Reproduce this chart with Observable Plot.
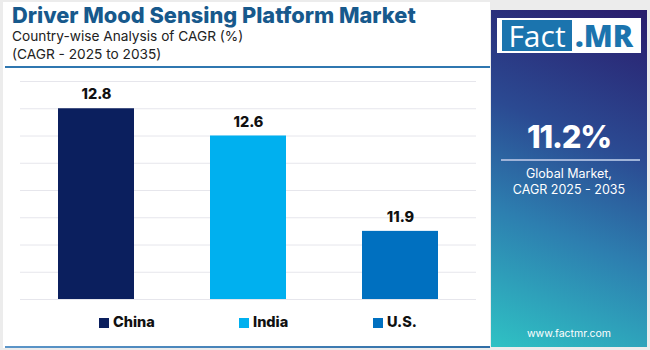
<!DOCTYPE html>
<html>
<head>
<meta charset="utf-8">
<script src="https://cdn.jsdelivr.net/npm/d3@7"></script>
<script src="https://cdn.jsdelivr.net/npm/@observablehq/plot@0.6"></script>
<style>
  html, body { margin: 0; padding: 0; }
  body { width: 650px; height: 350px; overflow: hidden; font-family: Inter, "Open Sans", sans-serif; }
  #frame { position: relative; width: 650px; height: 350px; background: #ececec; }
  #panel { position: absolute; left: 3px; top: 2px; width: 487px; height: 346px; background: #ffffff; }
  #title { position: absolute; left: 12px; top: 2px; font-size: 21.8px; font-weight: 800; color: #17598c; white-space: nowrap; }
  #sub1 { position: absolute; left: 12px; top: 28px; font-size: 13.7px; color: #222; white-space: nowrap; }
  #sub2 { position: absolute; left: 12px; top: 46px; font-size: 13.7px; color: #222; white-space: nowrap; }
  #rule { position: absolute; left: 5px; top: 66px; width: 485px; height: 1.5px; background: #2f77b0; }
  #bottomrule { position: absolute; left: 5px; top: 346px; width: 485px; height: 2px; background: linear-gradient(to right, #5b95c8, #2f6ea6); }
  #chart { position: absolute; left: 0; top: 70px; }
  #legend { position: absolute; top: 313px; left: 0; width: 490px; height: 20px; }
  .li { position: absolute; top: 0; font-size: 14.5px; font-weight: 800; color: #111; white-space: nowrap; }
  .sw { display: inline-block; width: 10px; height: 10px; margin-right: 4px; vertical-align: -1px; }
  #side { position: absolute; left: 491px; top: 10px; width: 156px; height: 337px;
          background: linear-gradient(22deg, #2fc2c4 0%, #2d7fb0 35%, #2b4a92 62%, #2a1c6c 100%); }
  #logo { position: absolute; left: 6px; top: 8px; width: 144px; height: 35px; background: #fff; }
  #logoFact { position: absolute; left: 5px; top: 2px; width: 70px; height: 31px; background: #1b74ae; color: #fff; font-family: "Open Sans", sans-serif; font-size: 30px; line-height: 31px; text-align: center; }
  #logoMR { position: absolute; left: 78px; top: 2px; font-family: "Open Sans", sans-serif; font-size: 30px; font-weight: 800; line-height: 31px; color: #1b74ae; }
  #big { position: absolute; left: 0; width: 156px; top: 108px; text-align: center; color: #fff; font-size: 31px; font-weight: 800; letter-spacing: -1.2px; }
  #sep { position: absolute; left: 10px; top: 149px; width: 139px; height: 2px; background: #9fb3d8; }
  #glob { position: absolute; left: 0; width: 156px; top: 156px; text-align: center; color: #fff; font-size: 12.5px; line-height: 16px; }
  #url { position: absolute; left: 0; width: 156px; top: 317px; text-align: center; color: #fff; font-size: 10.5px; }
</style>
</head>
<body>
<div id="frame">
  <div id="panel"></div>
  <div id="title">Driver Mood Sensing Platform Market</div>
  <div id="sub1">Country-wise Analysis of CAGR (%)</div>
  <div id="sub2">(CAGR - 2025 to 2035)</div>
  <div id="rule"></div>
  <div id="chart"></div>
  <div id="legend"></div>
  <div id="bottomrule"></div>
  <div id="side">
    <div id="logo"><div id="logoFact">Fact</div><div id="logoMR">.MR</div></div>
    <div id="big">11.2%</div>
    <div id="sep"></div>
    <div id="glob">Global Market,<br>CAGR 2025 - 2035</div>
    <div id="url">www.factmr.com</div>
  </div>
</div>
<script>
const countries = ["China", "India", "U.S."];
const cagr = [12.8, 12.6, 11.9];
const colors = ["#0b1f5e", "#00b0ef", "#0070c0"];
const yDomain = [11.4, 13.0];
const gridTicks = [11.4, 11.6, 11.8, 12.0, 12.2, 12.4, 12.6, 12.8, 13.0];

const data = countries.map((c, i) => ({country: c, value: cagr[i], base: yDomain[0]}));

const chart = Plot.plot({
  width: 490,
  height: 275,
  marginTop: 11,
  marginBottom: 46,
  marginLeft: 20,
  marginRight: 14,
  style: {background: "transparent", fontFamily: "Inter, sans-serif"},
  x: {domain: countries, paddingInner: 0.5, paddingOuter: 0.25, axis: null},
  y: {domain: yDomain, axis: null},
  color: {domain: countries, range: colors},
  marks: [
    Plot.gridY(gridTicks, {stroke: "#e6e6ec", strokeOpacity: 1, strokeWidth: 1}),
    Plot.barY(data, {x: "country", y1: "base", y2: "value", fill: "country"}),
    Plot.text(data, {x: "country", y: "value", text: d => d.value.toFixed(1), dy: -14, fontSize: 14.5, fontWeight: 800, fill: "#111"})
  ]
});
document.getElementById("chart").appendChild(chart);

const legendX = [99, 239, 373];
const legend = document.getElementById("legend");
countries.forEach((c, i) => {
  const el = document.createElement("div");
  el.className = "li";
  el.style.left = legendX[i] + "px";
  el.innerHTML = `<span class="sw" style="background:${colors[i]}"></span>${c}`;
  legend.appendChild(el);
});
</script>
</body>
</html>
